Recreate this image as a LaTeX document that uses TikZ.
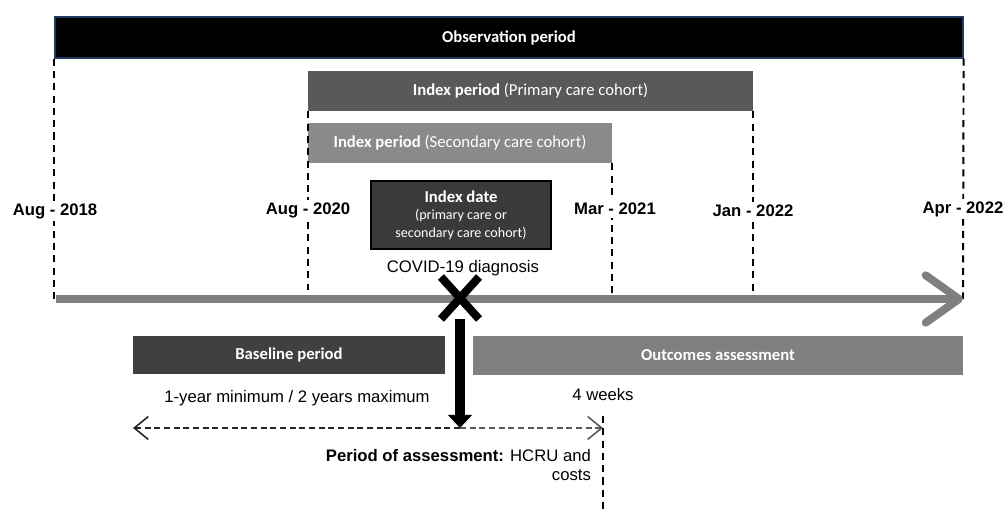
\documentclass[tikz,border=0pt]{standalone}
\usepackage{fontspec}
\setmainfont{Liberation Sans}
\newfontfamily\barfont{Carlito}
\usepackage{xcolor}
\usetikzlibrary{positioning,arrows.meta,shapes.misc,calc}

\definecolor{obsblue}{RGB}{31,56,100}
\definecolor{primgray}{HTML}{595959}
\definecolor{secgray}{HTML}{8A8A8A}
\definecolor{idgray}{HTML}{3A3A3A}
\definecolor{basegray}{HTML}{404040}
\definecolor{outgray}{HTML}{808080}

\begin{document}
\begin{tikzpicture}[x=0.02cm, y=-0.02cm,
  bar/.style={minimum height=0.8cm, inner sep=0pt, text=white,
              font=\barfont\fontsize{9.5}{11}\selectfont},
  obsbar/.style={bar, fill=black, draw=obsblue, line width=0.8pt, minimum height=0.82cm},
  date/.style={fill=white, inner sep=1.5pt, font=\bfseries\fontsize{9.5}{11}\selectfont},
  txt/.style={inner sep=1pt, font=\fontsize{9.5}{11}\selectfont},
  vline/.style={line width=1.1pt, dash pattern=on 4pt off 3pt},
  tline/.style={draw=outgray, line width=4.5pt},
  bigarr/.style={-{Triangle[length=7.5pt, width=13.5pt]}, line width=5.6pt},
  dasharr/.style={-{Straight Barb[length=8pt, width=13pt]}, line width=0.9pt,
                  dash pattern=on 3.5pt off 2pt},
]
\useasboundingbox (0,0) rectangle (1005,509);

% ====== periods (top) ======
\node[obsbar, minimum width=18.16cm] (obs) at (509,37.5) {\textbf{Observation period}};
\node[bar, fill=primgray, minimum width=8.9cm] (prim) at (530.5,91)
  {\textbf{Index period} (Primary care cohort)};
\node[bar, fill=secgray, minimum width=6.08cm] (sec) at (460,143)
  {\textbf{Index period} (Secondary care cohort)};
\node[bar, fill=idgray, draw=black, line width=1.1pt, minimum width=3.6cm,
      minimum height=1.36cm, align=center] (idate) at (461,215)
  {\textbf{Index date}\\[-1pt]{\fontsize{8}{9.5}\selectfont (primary care or}\\[-1pt]
   {\fontsize{8}{9.5}\selectfont secondary care cohort)}};
\node[txt] (covid) at (463,268) {COVID-19 diagnosis};

% timeline
\coordinate (tl0) at (56,299);
\coordinate (tl1) at (963,299);

% dashed date lines
\draw[vline] (obs.south west) -- (obs.south west |- tl0);
\draw[vline] (prim.south west) -- ($(prim.south west |- tl0)+(0,-9)$);
\draw[vline] (sec.south east) -- (sec.south east |- tl0);
\draw[vline] (prim.south east) -- (prim.south east |- tl0);
\draw[vline] (obs.south east) -- (tl1);

\node[date] (d1) at (55,211) {Aug - 2018};
\node[date] (d2) at (308,210) {Aug - 2020};
\node[date] (d3) at (615,209) {Mar - 2021};
\node[date] (d4) at (753,211) {Jan - 2022};
\node[date] (d5) at (963,209) {Apr - 2022};

\draw[tline, -{Straight Barb[length=19pt, width=27pt, round]}] (tl0) -- (tl1);

% ====== index date marker ======
\node[cross out, draw, line width=4.6pt, minimum width=0.6cm, minimum height=0.68cm,
      inner sep=0pt] (cx) at (460,298) {};
\coordinate (mid) at (460,428);
\draw[bigarr] (cx.south) -- (mid);

% ====== baseline / outcomes (bottom) ======
\node[bar, fill=basegray, minimum width=6.24cm, minimum height=0.76cm] (base) at (289,355)
  {\textbf{Baseline period}};
\node[bar, fill=outgray, minimum width=9.8cm, minimum height=0.78cm] (outc) at (718,355.5)
  {\textbf{Outcomes assessment}};

\node[txt] (yrs) at (297,398) {1-year minimum / 2 years maximum};
\node[txt] (wks) at (603,395) {4 weeks};

\coordinate (lend) at (133,428);
\coordinate (rend) at (603,428);
\draw[dasharr, black!85] (mid) -- (lend);
\draw[dasharr, black!65] (mid) -- (rend);

\coordinate (wtop) at (603,416);
\coordinate (wbot) at (603,509);
\draw[vline] (wtop) -- (wbot);

\node[txt, anchor=north east, align=right] (poa) at (593,447)
  {\textbf{Period of assessment:} HCRU and\\costs};

\end{tikzpicture}
\end{document}
